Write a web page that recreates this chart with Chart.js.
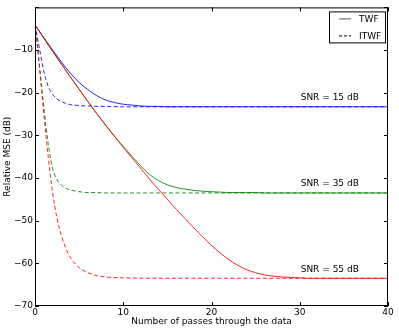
<!DOCTYPE html>
<html>
<head>
<meta charset="utf-8">
<script src="https://cdn.jsdelivr.net/npm/chart.js@4.4.0/dist/chart.umd.min.js"></script>
<style>
  html, body { margin: 0; padding: 0; background: #fff; }
  #wrap { width: 399px; height: 332px; }
</style>
</head>
<body>
<div id="wrap"><canvas id="mseChart"></canvas></div>
<script>
// passes for TWF curves (one point per pass)
const passes = [0, 1, 2, 3, 4, 5, 6, 7, 8, 9, 10, 11, 12, 13, 14, 15, 16, 17, 18, 19, 20,
  21, 22, 23, 24, 25, 26, 27, 28, 29, 30, 31, 32, 33, 34, 35, 36, 37, 38, 39, 40];

const twf15 = [-4.1, -7.1, -10.0, -12.8, -15.4, -17.6, -19.3, -20.7, -21.7, -22.3, -22.7,
  -22.9, -23.1, -23.2, -23.2, -23.3, -23.3, -23.3, -23.3, -23.3, -23.3,
  -23.3, -23.3, -23.3, -23.3, -23.3, -23.3, -23.3, -23.3, -23.3, -23.3,
  -23.3, -23.3, -23.3, -23.3, -23.3, -23.3, -23.3, -23.3, -23.3, -23.3];

const twf35 = [-4.1, -7.2, -10.3, -13.3, -16.3, -19.2, -22.1, -24.9, -27.6, -30.2, -32.6,
  -34.9, -37.2, -39.2, -40.6, -41.6, -42.2, -42.6, -42.9, -43.1, -43.2,
  -43.3, -43.4, -43.4, -43.4, -43.4, -43.5, -43.5, -43.5, -43.5, -43.5,
  -43.5, -43.5, -43.5, -43.5, -43.5, -43.5, -43.5, -43.5, -43.5, -43.5];

const twf55 = [-4.1, -7.2, -10.3, -13.3, -16.3, -19.2, -22.1, -24.9, -27.6, -30.2, -32.8,
  -35.3, -37.8, -40.3, -42.7, -45.0, -47.3, -49.5, -51.7, -53.8, -55.8,
  -57.6, -59.2, -60.5, -61.5, -62.2, -62.7, -63.0, -63.2, -63.3, -63.4,
  -63.5, -63.5, -63.5, -63.5, -63.5, -63.5, -63.5, -63.5, -63.5, -63.5];

// ITWF curves, denser near the start
const itwfX = [0, 0.25, 0.5, 0.75, 1, 1.25, 1.5, 1.75, 2, 2.5, 3, 3.5, 4, 5, 6, 7, 8, 10, 15, 20, 30, 40];
const itwf15 = [-4.1, -6.8, -9.6, -12.4, -15.0, -17.0, -18.5, -19.6, -20.4, -21.5, -22.1, -22.5,
  -22.8, -23.0, -23.1, -23.2, -23.2, -23.3, -23.3, -23.3, -23.3, -23.3];
const itwf35 = [-4.1, -8.5, -13.5, -18.5, -23.3, -28.0, -32.0, -35.3, -37.8, -40.4, -41.7, -42.4,
  -42.8, -43.2, -43.4, -43.4, -43.5, -43.5, -43.5, -43.5, -43.5, -43.5];
const itwf55 = [-4.1, -8.7, -14.0, -19.5, -25.0, -30.3, -35.0, -39.5, -43.5, -49.5, -53.5, -56.5,
  -58.6, -61.0, -62.2, -62.9, -63.2, -63.4, -63.5, -63.5, -63.5, -63.5];

const xTicks = [0, 10, 20, 30, 40];
const yTicks = [-70, -60, -50, -40, -30, -20, -10, 0];
const snrLabels = ["SNR = 15 dB", "SNR = 35 dB", "SNR = 55 dB"];

const FONT = "'DejaVu Sans', sans-serif";

function pts(xs, ys) {
  return xs.map((x, i) => ({ x: x, y: ys[i] }));
}

function line(data, color, dashed) {
  return {
    data: data,
    borderColor: color,
    borderWidth: 0.85,
    borderDash: dashed ? [4, 2.5] : [],
    pointRadius: 0,
    fill: false,
    cubicInterpolationMode: "monotone",
  };
}

// first dataset is drawn on top
const datasets = [
  line(pts(passes, twf55), "#ff0000", false),
  line(pts(itwfX, itwf55), "#ff0000", true),
  line(pts(passes, twf35), "#008000", false),
  line(pts(itwfX, itwf35), "#008000", true),
  line(pts(passes, twf15), "#0000ff", false),
  line(pts(itwfX, itwf15), "#0000ff", true),
];

const extras = {
  id: "extras",
  afterDraw(chart) {
    const ctx = chart.ctx;
    const a = chart.chartArea;
    const xs = chart.scales.x;
    const ys = chart.scales.y;
    ctx.save();

    // frame
    ctx.strokeStyle = "#000";
    ctx.lineWidth = 1;
    ctx.strokeRect(a.left + 0.5, a.top + 0.5, a.right - a.left - 1, a.bottom - a.top - 1);

    // inward ticks on all four sides
    ctx.beginPath();
    xTicks.forEach((v) => {
      const px = Math.round(xs.getPixelForValue(v)) + 0.5;
      ctx.moveTo(px, a.bottom); ctx.lineTo(px, a.bottom - 4);
      ctx.moveTo(px, a.top); ctx.lineTo(px, a.top + 4);
    });
    yTicks.forEach((v) => {
      const py = Math.round(ys.getPixelForValue(v)) + 0.5;
      ctx.moveTo(a.left, py); ctx.lineTo(a.left + 4, py);
      ctx.moveTo(a.right, py); ctx.lineTo(a.right - 4, py);
    });
    ctx.stroke();

    // axis titles
    ctx.fillStyle = "#000";
    ctx.font = "9px " + FONT;
    ctx.textAlign = "center";
    ctx.textBaseline = "middle";
    ctx.fillText("Number of passes through the data", (a.left + a.right) / 2, 322);
    ctx.save();
    ctx.translate(8, (a.top + a.bottom) / 2);
    ctx.rotate(-Math.PI / 2);
    ctx.fillText("Relative MSE (dB)", 0, 0);
    ctx.restore();

    // SNR annotations just above each floor
    const floors = [twf15[twf15.length - 1], twf35[twf35.length - 1], twf55[twf55.length - 1]];
    snrLabels.forEach((t, i) => {
      ctx.fillText(t, xs.getPixelForValue(33.4), ys.getPixelForValue(floors[i]) - 9);
    });

    // legend
    const bx = a.right - 59, by = a.top + 4, bw = 56, bh = 31;
    ctx.fillStyle = "#fff";
    ctx.fillRect(bx, by, bw, bh);
    ctx.strokeStyle = "#000";
    ctx.strokeRect(bx + 0.5, by + 0.5, bw, bh);
    ctx.lineWidth = 1;
    ctx.strokeStyle = "#555";
    ctx.beginPath();
    ctx.moveTo(bx + 10, by + 7.5); ctx.lineTo(bx + 22, by + 7.5);
    ctx.stroke();
    ctx.strokeStyle = "#000";
    ctx.setLineDash([3, 2]);
    ctx.beginPath();
    ctx.moveTo(bx + 10, by + 24.5); ctx.lineTo(bx + 22, by + 24.5);
    ctx.stroke();
    ctx.setLineDash([]);
    ctx.fillStyle = "#000";
    ctx.textAlign = "left";
    ctx.fillText("TWF", bx + 30, by + 8);
    ctx.fillText("ITWF", bx + 30, by + 25);
    ctx.restore();
  },
};

new Chart(document.getElementById("mseChart"), {
  type: "line",
  data: { datasets: datasets },
  options: {
    responsive: true,
    maintainAspectRatio: false,
    animation: false,
    layout: { padding: { top: 4, right: 11, left: 0, bottom: 0 } },
    plugins: { legend: { display: false }, tooltip: { enabled: false } },
    scales: {
      x: {
        type: "linear",
        min: 0,
        max: 40,
        afterFit(s) { s.height = 26; },
        afterBuildTicks(s) { s.ticks = xTicks.map((v) => ({ value: v })); },
        grid: { display: false, drawTicks: false },
        border: { display: false },
        ticks: { padding: 1, maxRotation: 0, color: "#000", font: { family: FONT, size: 9 } },
      },
      y: {
        type: "linear",
        min: -70,
        max: 0,
        afterFit(s) { s.width = 35; },
        afterBuildTicks(s) { s.ticks = yTicks.map((v) => ({ value: v })); },
        grid: { display: false, drawTicks: false },
        border: { display: false },
        ticks: {
          padding: 2,
          color: "#000",
          font: { family: FONT, size: 9 },
          callback: (v) => (v === 0 ? "" : "\u2212" + Math.abs(v)),
        },
      },
    },
  },
  plugins: [extras],
});
</script>
</body>
</html>
